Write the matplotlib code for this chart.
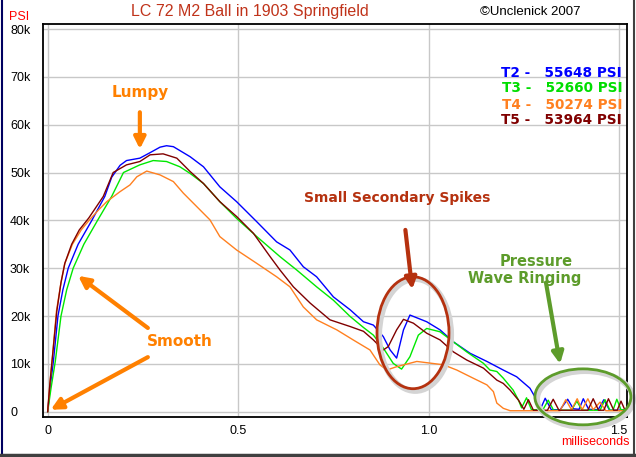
import matplotlib
matplotlib.use('Agg')
import matplotlib.pyplot as plt
from matplotlib.patches import Ellipse, FancyArrowPatch
from matplotlib.lines import Line2D

plt.rcParams['font.family'] = ['Liberation Sans', 'DejaVu Sans']

# pressure traces, time in ms, pressure in kpsi
t2_x = [0, 0.007, 0.015, 0.027, 0.040, 0.054, 0.080, 0.116, 0.150, 0.168, 0.190, 0.207,
        0.242, 0.270, 0.295, 0.312, 0.330, 0.374, 0.409, 0.452, 0.496, 0.549, 0.601,
        0.636, 0.671, 0.706, 0.750, 0.794, 0.829, 0.855, 0.881, 0.899, 0.916, 0.934,
        0.951, 0.995, 1.030, 1.065, 1.109, 1.153, 1.196, 1.231, 1.266, 1.284, 1.295,
        1.306, 1.322, 1.345, 1.365, 1.380, 1.395, 1.406, 1.420, 1.445, 1.460, 1.475, 1.515]
t2_y = [0, 5.5, 10.5, 20, 25.5, 30, 35, 40, 45, 49, 51.5, 52.5,
        53.0, 54.2, 55.3, 55.6, 55.4, 53.3, 51.2, 47.0, 43.9, 39.7, 35.5,
        33.8, 30.3, 28.2, 24.0, 21.3, 18.8, 18.1, 15.7, 12.9, 11.2, 17.1,
        20.2, 18.8, 17.1, 14.6, 12.2, 10.5, 8.7, 7.3, 4.9, 2.4, 0.8,
        2.8, 0.4, 0.4, 2.6, 0.6, 0.5, 2.7, 0.5, 0.4, 2.5, 0.3, 0.3]

t3_x = [0, 0.009, 0.020, 0.035, 0.050, 0.067, 0.095, 0.131, 0.168, 0.199, 0.242, 0.277,
        0.312, 0.347, 0.374, 0.409, 0.452, 0.496, 0.549, 0.610, 0.654, 0.706, 0.750,
        0.794, 0.829, 0.855, 0.881, 0.907, 0.929, 0.951, 0.973, 0.995, 1.030, 1.065,
        1.100, 1.144, 1.161, 1.179, 1.196, 1.222, 1.236, 1.244, 1.257, 1.270, 1.300,
        1.314, 1.328, 1.375, 1.389, 1.403, 1.450, 1.463, 1.476, 1.484, 1.494, 1.505, 1.515]
t3_y = [0, 5, 10.5, 20, 25.5, 30, 35, 40, 45, 50, 51.6, 52.5,
        52.3, 51.2, 49.8, 47.7, 43.9, 40.4, 36.6, 32.4, 29.6, 26.1, 23.3,
        19.9, 17.6, 16.0, 13.3, 10.1, 8.9, 11.5, 16.0, 17.4, 16.7, 14.6,
        12.5, 10.1, 8.7, 8.4, 7.0, 4.5, 2.4, 0.8, 2.9, 0.4, 0.4,
        2.4, 0.3, 0.3, 2.2, 0.3, 0.3, 2.5, 0.3, 0.3, 2.6, 0.4, 0.4]

t4_x = [0, 0.006, 0.012, 0.023, 0.035, 0.045, 0.065, 0.088, 0.112, 0.135, 0.155, 0.190,
        0.216, 0.234, 0.260, 0.295, 0.330, 0.356, 0.391, 0.426, 0.452, 0.496, 0.549,
        0.601, 0.636, 0.671, 0.706, 0.759, 0.802, 0.846, 0.872, 0.890, 0.916, 0.969,
        1.039, 1.074, 1.117, 1.153, 1.170, 1.179, 1.196, 1.214, 1.345, 1.360, 1.375,
        1.390, 1.403, 1.418, 1.432, 1.450, 1.465, 1.515]
t4_y = [0, 6, 11, 21, 27, 31, 35, 38, 40.3, 42.3, 43.9, 46.0,
        47.4, 49.1, 50.3, 49.5, 48.1, 45.7, 42.9, 40.1, 36.6, 33.8, 31.0,
        28.2, 26.1, 21.9, 19.2, 17.1, 15.0, 12.9, 9.8, 8.7, 9.4, 10.5,
        9.8, 8.7, 7.0, 5.6, 4.2, 1.8, 0.7, 0.2, 0.2, 2.5, 0.4,
        2.7, 0.4, 2.7, 0.4, 2.0, 0.2, 0.2]

t5_x = [0, 0.006, 0.012, 0.024, 0.035, 0.045, 0.063, 0.083, 0.108, 0.146, 0.172, 0.207,
        0.242, 0.269, 0.303, 0.339, 0.374, 0.409, 0.452, 0.496, 0.540, 0.584, 0.610,
        0.645, 0.689, 0.741, 0.794, 0.829, 0.855, 0.881, 0.894, 0.916, 0.934, 0.960,
        0.995, 1.030, 1.065, 1.100, 1.144, 1.179, 1.196, 1.214, 1.236, 1.250, 1.262,
        1.275, 1.312, 1.327, 1.342, 1.418, 1.432, 1.446, 1.460, 1.472, 1.486, 1.495,
        1.505, 1.515]
t5_y = [0, 6, 11, 21, 27, 31, 35, 38, 40.5, 45, 50, 51.6,
        52.3, 53.7, 53.9, 53.0, 50.2, 47.7, 43.9, 40.8, 37.3, 32.4, 29.6,
        26.1, 22.7, 19.2, 17.8, 16.8, 15.0, 12.9, 13.6, 17.1, 19.3, 18.5,
        16.4, 15.0, 12.5, 10.8, 9.1, 6.6, 5.9, 4.5, 2.4, 0.5, 2.5,
        0.3, 0.3, 2.6, 0.3, 0.3, 2.7, 0.3, 0.3, 2.7, 0.3, 0.3,
        2.2, 0.4]

series = [('T2', t2_x, t2_y, '#0000ff', '55648'),
          ('T3', t3_x, t3_y, '#00e800', '52660'),
          ('T4', t4_x, t4_y, '#ff8020', '50274'),
          ('T5', t5_x, t5_y, '#800000', '53964')]

y_ticks = [0, 10, 20, 30, 40, 50, 60, 70, 80]
y_labels = ['0', '10k', '20k', '30k', '40k', '50k', '60k', '70k', '80k']
x_ticks = [0, 0.5, 1.0, 1.5]
x_labels = ['0', '0.5', '1.0', '1.5']

fig = plt.figure(figsize=(6.36, 4.57), dpi=100)
ax = fig.add_axes([0.0671, 0.0882, 0.9183, 0.8593])

for name, xs, ys, col, pk in series:
    ax.plot(xs, ys, color=col, lw=1.0, zorder=3)

ax.set_xlim(-0.0131, 1.520)
ax.set_ylim(-1.05, 81.05)
ax.set_yticks(y_ticks)
ax.set_yticklabels(y_labels, fontsize=9)
ax.set_xticks(x_ticks)
ax.set_xticklabels(x_labels, fontsize=9)
for lab in ax.get_yticklabels():
    lab.set_ha('left')
ax.tick_params(axis='y', length=0, pad=23.5)
ax.tick_params(axis='x', length=0, pad=6)
ax.grid(True, color='#c8c8c8', lw=1.0, zorder=0)
for sp in ax.spines.values():
    sp.set_linewidth(1.3)
    sp.set_color('black')

bold = ['DejaVu Sans']

# legend text
leg_y = [70.9, 67.6, 64.2, 60.9]
for (name, xs, ys, col, pk), yy in zip(series, leg_y):
    legcol = '#00dd00' if name == 'T3' else col
    ax.text(1.508, yy, name + ' -   ' + pk + ' PSI', color=legcol, fontsize=9.8,
            family=bold, fontweight='bold', ha='right', va='center')

# annotations
orange = '#ff8000'
darkred = '#b5310f'
green = '#5d9c2b'

ax.text(0.242, 66.8, 'Lumpy', color=orange, fontsize=11, family=bold,
        fontweight='bold', ha='center', va='center')
ax.text(0.917, 44.7, 'Small Secondary Spikes', color=darkred, fontsize=10,
        family=bold, fontweight='bold', ha='center', va='center')
ax.text(1.283, 31.3, 'Pressure', color=green, fontsize=10.5, family=bold,
        fontweight='bold', ha='center', va='center')
ax.text(1.253, 27.9, 'Wave Ringing', color=green, fontsize=10.5, family=bold,
        fontweight='bold', ha='center', va='center')
ax.text(0.348, 14.6, 'Smooth', color=orange, fontsize=11, family=bold,
        fontweight='bold', ha='center', va='center')


def arrow(x0, y0, x1, y1, col):
    a = FancyArrowPatch((x0, y0), (x1, y1), arrowstyle='-|>', mutation_scale=17,
                        lw=3, color=col, zorder=5, clip_on=False,
                        shrinkA=0, shrinkB=0)
    ax.add_patch(a)


arrow(0.242, 62.6, 0.242, 54.9, orange)
arrow(0.939, 38.0, 0.957, 25.6, darkred)
arrow(1.308, 27.0, 1.345, 10.0, green)
arrow(0.263, 17.5, 0.080, 28.4, orange)
arrow(0.263, 11.4, 0.008, 0.4, orange)

# circled regions with soft shadow
for cx, cy, w, h, col in [(0.959, 16.5, 0.189, 23.4, darkred),
                          (1.405, 3.1, 0.252, 11.7, green)]:
    sh = Ellipse((cx + 0.006, cy - 0.5), w, h, fill=False, ec='#d4d4d4', lw=4,
                 zorder=4, clip_on=False)
    ax.add_patch(sh)
    el = Ellipse((cx, cy), w, h, fill=False, ec=col, lw=2, zorder=6, clip_on=False)
    ax.add_patch(el)

# figure texts
fig.text(0.393, 0.974, 'LC 72 M2 Ball in 1903 Springfield', color='#c0331a',
         fontsize=11.5, ha='center', va='center')
fig.text(0.833, 0.974, '\u00a9Unclenick 2007', color='black', fontsize=9.5,
         ha='center', va='center')
fig.text(9 / 636, 1 - 17 / 457, 'PSI', color='#ff0000', fontsize=9,
         ha='left', va='center')
fig.text(595 / 636, 1 - 442 / 457, 'milliseconds', color='#ff0000', fontsize=9,
         ha='center', va='center')

# outer frame
fig.add_artist(Line2D([2 / 636, 2 / 636], [0, 1], color='#000060', lw=1.5))
fig.add_artist(Line2D([0, 1], [2 / 457, 2 / 457], color='#404040', lw=2.5))
fig.add_artist(Line2D([634 / 636, 634 / 636], [0, 1], color='#404040', lw=1.5))

fig.savefig('out.png', dpi=100)
